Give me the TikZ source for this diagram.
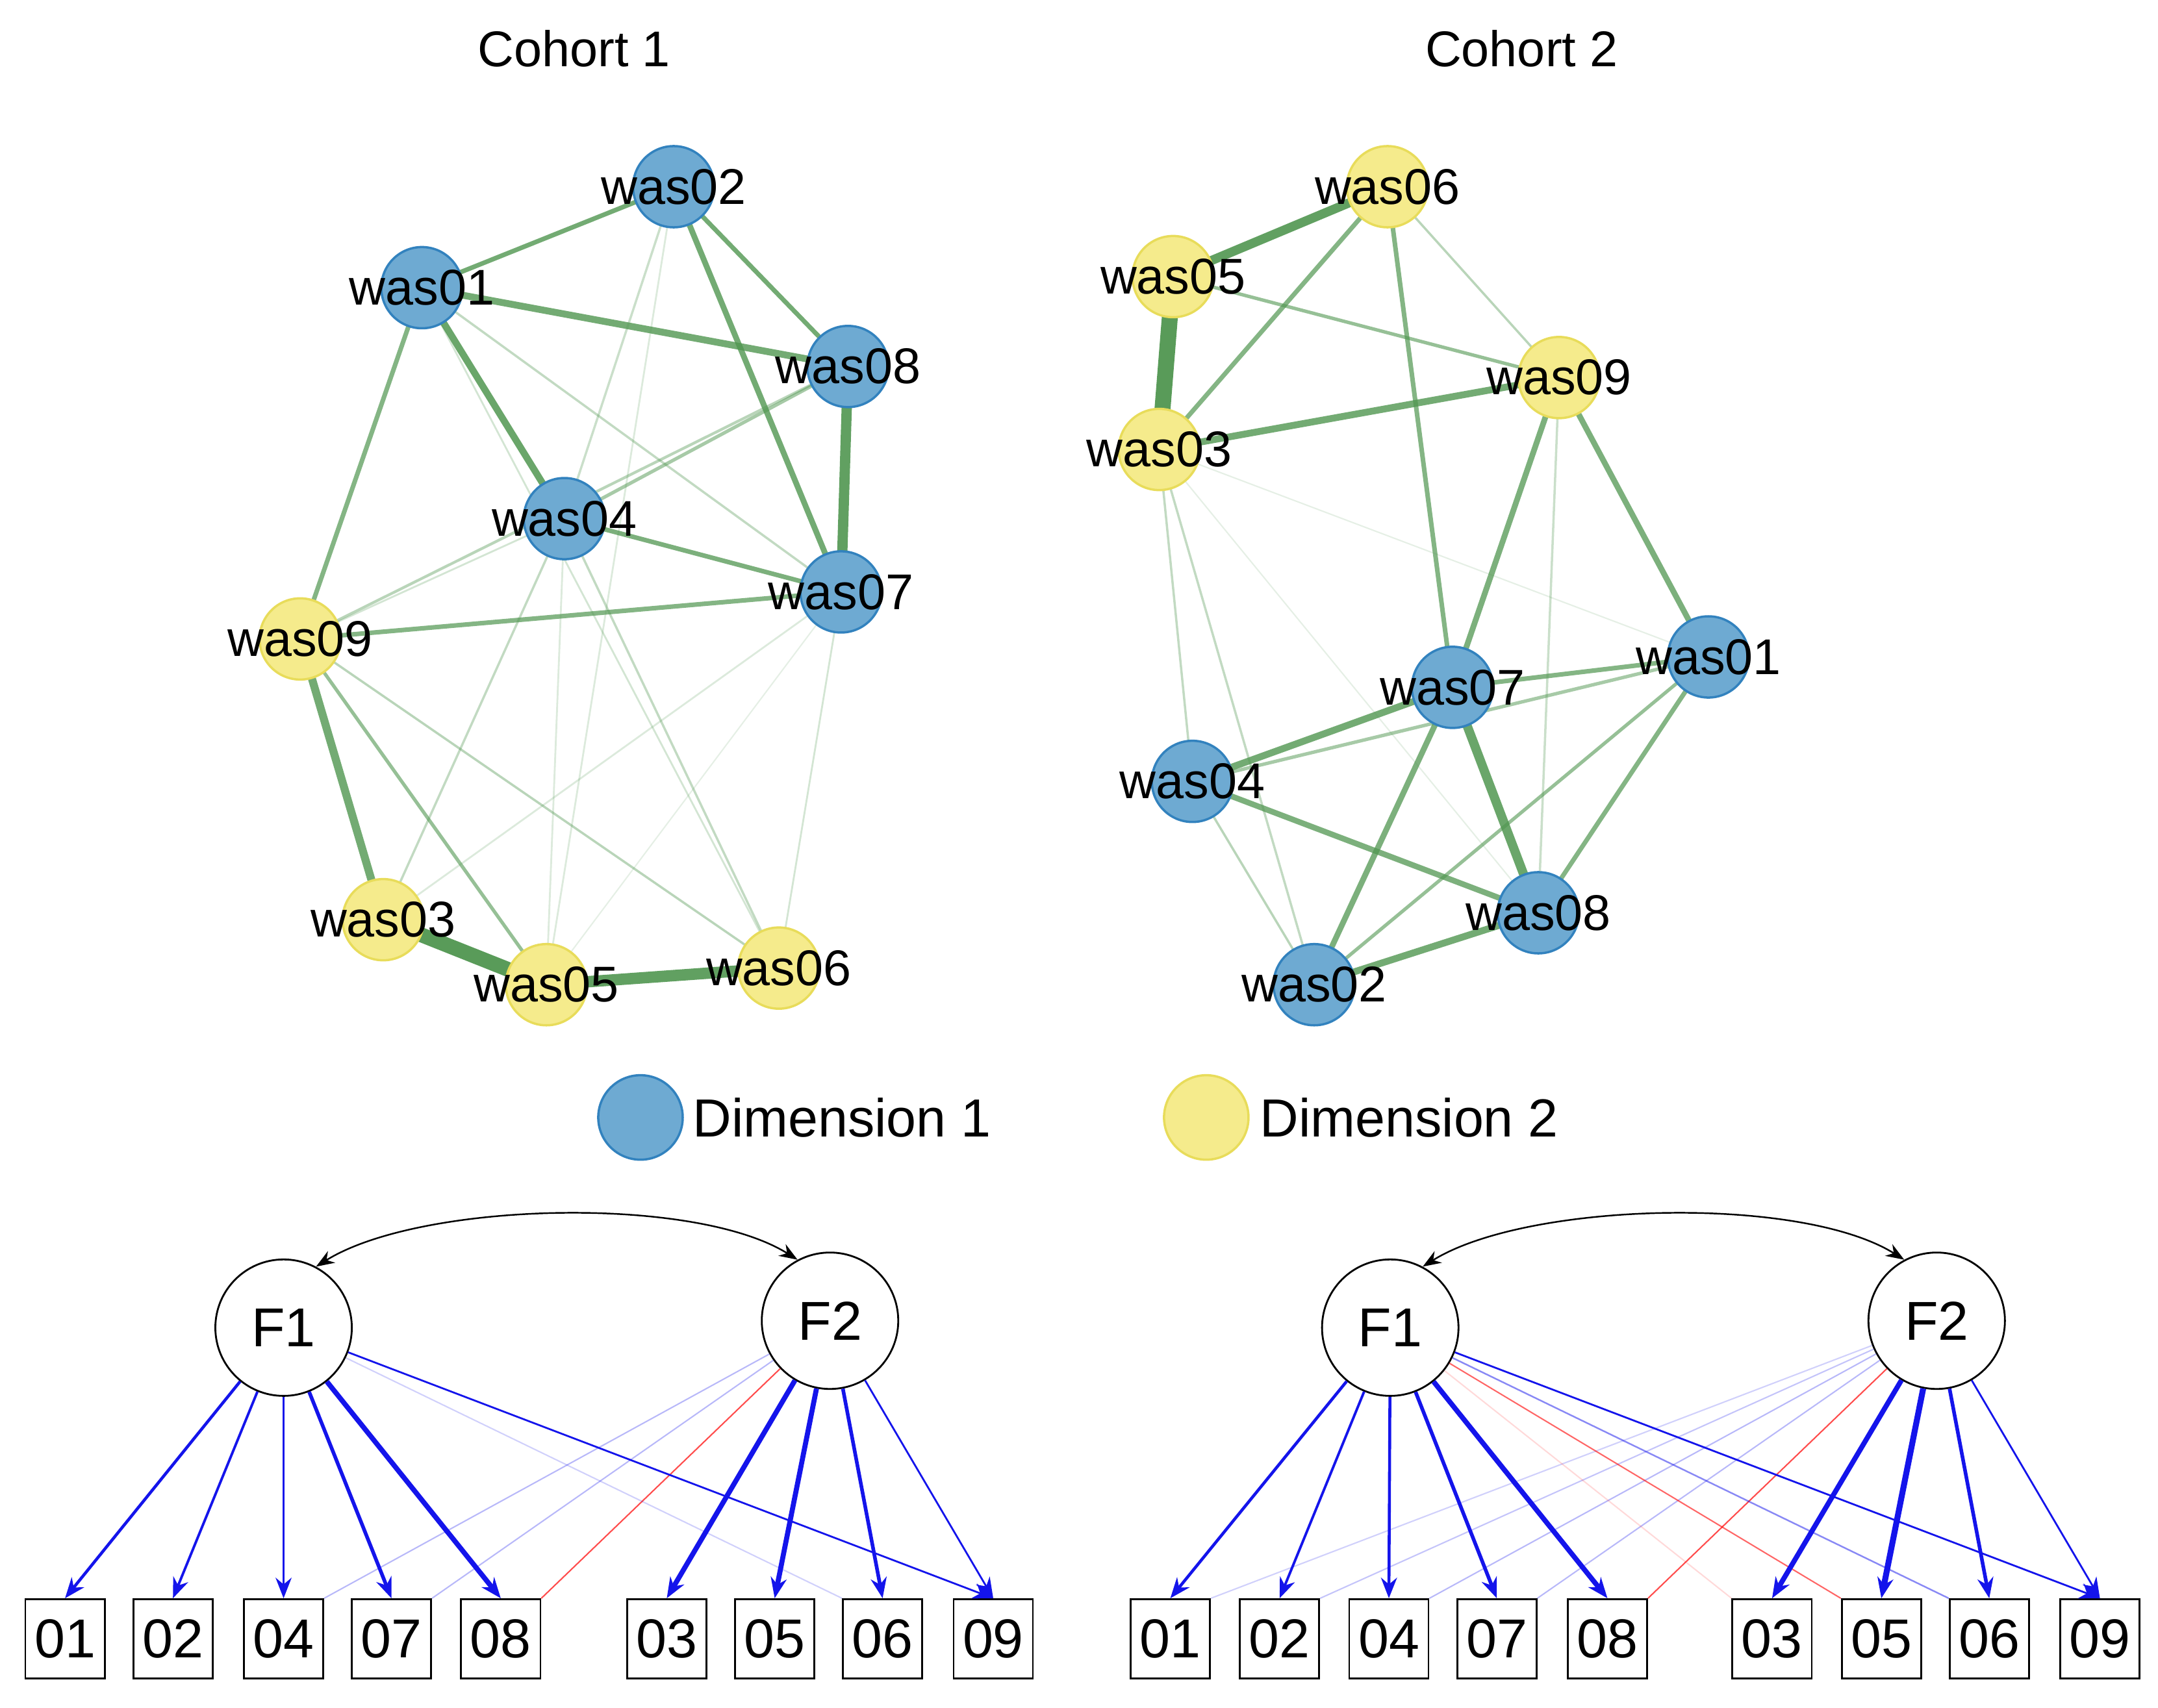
\documentclass[tikz,border=0pt]{standalone}
\usepackage{fontspec}
\setmainfont{Liberation Sans}
\usetikzlibrary{arrows.meta}
\definecolor{dimA}{RGB}{110,170,210}
\definecolor{dimAb}{RGB}{50,130,190}
\definecolor{dimB}{RGB}{245,235,140}
\definecolor{dimBb}{RGB}{232,220,90}
\definecolor{eg}{RGB}{80,150,80}
\definecolor{lb}{RGB}{20,20,235}
\begin{document}
\begin{tikzpicture}[x=0.02129cm,y=-0.02129cm,
  lab/.style={font=\fontsize{22}{26}\selectfont},
  dA/.style={circle,minimum size=1.25cm,inner sep=0pt,fill=dimA,draw=dimAb,line width=1pt},
  dB/.style={circle,minimum size=1.25cm,inner sep=0pt,fill=dimB,draw=dimBb,line width=1pt},
  edge/.style={draw=eg},
  fac/.style={circle,draw,minimum size=2.1cm,inner sep=0pt,font=\fontsize{24}{28}\selectfont,line width=0.8pt},
  box/.style={draw,minimum width=1.22cm,minimum height=1.22cm,inner sep=0pt,font=\fontsize{24}{28}\selectfont,line width=0.8pt},
  ld/.style={-{Stealth[length=9pt,width=7pt]},draw=lb},
  cr/.style={draw=lb},
  cov/.style={{Stealth[length=8pt]}-{Stealth[length=8pt]},line width=0.7pt}
]
\useasboundingbox (0,0) rectangle (1560,1235);
\node[lab] (t1) at (415,35) {Cohort 1};
\node[lab] (t2) at (1100,35) {Cohort 2};
% cohort 1 coordinates
\coordinate (a02) at (487,135); \coordinate (a01) at (305,208); \coordinate (a08) at (613,265);
\coordinate (a04) at (408,375); \coordinate (a07) at (608,428); \coordinate (a09) at (217,462);
\coordinate (a03) at (277,665); \coordinate (a05) at (395,712); \coordinate (a06) at (563,700);
\foreach \p/\q/\w/\o in {01/02/2/0.8,01/08/3/0.8,01/04/3/0.85,01/09/2/0.7,02/08/2/0.8,02/07/2.5/0.8,
  08/07/4.5/0.9,08/04/1.5/0.5,08/09/1.2/0.4,04/07/2/0.75,09/07/2/0.7,09/03/3.5/0.8,03/05/6.5/0.95,
  05/06/5/0.9,09/05/1.5/0.6,09/06/1/0.4,01/07/1/0.35,01/06/0.8/0.25,02/04/1/0.3,02/05/0.8/0.2,
  04/05/0.8/0.2,04/06/1/0.35,04/03/1/0.35,07/03/0.8/0.2,07/06/0.8/0.25,09/04/0.8/0.25,07/05/0.6/0.15}
  \draw[edge,line width=\w pt,draw opacity=\o] (a\p) -- (a\q);
\foreach \n/\s in {02/dA,01/dA,08/dA,04/dA,07/dA,09/dB,03/dB,05/dB,06/dB}
  \node[\s] (n1\n) at (a\n) {};
\foreach \n in {02,01,08,04,07,09,03,05,06}
  \node[lab] (l1\n) at (a\n) {was\n};
% cohort 2
\coordinate (b06) at (1003,135); \coordinate (b05) at (848,200); \coordinate (b09) at (1127,273);
\coordinate (b03) at (838,325); \coordinate (b01) at (1235,475); \coordinate (b07) at (1050,497);
\coordinate (b04) at (862,565); \coordinate (b08) at (1112,660); \coordinate (b02) at (950,712);
\foreach \p/\q/\w/\o in {06/05/4/0.9,05/03/7/0.95,06/03/2/0.7,05/09/1.5/0.6,03/09/3/0.8,06/07/2/0.7,
  06/09/1/0.4,09/07/2.5/0.75,09/01/2.5/0.75,09/08/1/0.3,07/01/2/0.7,07/04/3/0.8,04/01/1.5/0.5,
  07/08/4/0.85,07/02/2.5/0.75,04/08/2.5/0.75,04/02/1/0.4,02/08/3/0.8,01/08/2/0.7,01/02/1.5/0.6,
  03/04/1/0.35,03/02/1/0.35,03/01/0.6/0.15,03/08/0.6/0.15}
  \draw[edge,line width=\w pt,draw opacity=\o] (b\p) -- (b\q);
\foreach \n/\s in {06/dB,05/dB,09/dB,03/dB,01/dA,07/dA,04/dA,08/dA,02/dA}
  \node[\s] (n2\n) at (b\n) {};
\foreach \n in {06,05,09,03,01,07,04,08,02}
  \node[lab] (l2\n) at (b\n) {was\n};
% legend
\node[dA,minimum size=1.3cm] (lgA) at (463,808) {};
\node[lab,anchor=west,font=\fontsize{23.5}{28}\selectfont] (lgAt) at (495,808) {Dimension 1};
\node[dB,minimum size=1.3cm] (lgB) at (872,808) {};
\node[lab,anchor=west,font=\fontsize{23.5}{28}\selectfont] (lgBt) at (905,808) {Dimension 2};
% SEM cohort 1
\node[fac] (f11) at (205,960) {F1};
\node[fac] (f12) at (600,955) {F2};
\foreach \n/\x in {01/47,02/125,04/205,07/283,08/362,03/482,05/560,06/638,09/718}
  \node[box] (s1\n) at (\x,1185) {\n};
\draw[cr,line width=0.6pt,draw opacity=0.3] (f12) -- (s104.north east);
\draw[cr,line width=0.6pt,draw opacity=0.3] (f12) -- (s107.north east);
\draw[draw=red,line width=0.6pt,draw opacity=0.7] (f12) -- (s108.north east);
\draw[cr,line width=0.6pt,draw opacity=0.2] (f11) -- (s106.north west);
\draw[ld,line width=0.8pt] (f11) -- (s109.north);
\draw[ld,line width=1.3pt] (f11) -- (s101.north);
\draw[ld,line width=1.1pt] (f11) -- (s102.north);
\draw[ld,line width=1.1pt] (f11) -- (s104.north);
\draw[ld,line width=1.6pt] (f11) -- (s107.north);
\draw[ld,line width=2.2pt] (f11) -- (s108.north);
\draw[ld,line width=2.2pt] (f12) -- (s103.north);
\draw[ld,line width=2.2pt] (f12) -- (s105.north);
\draw[ld,line width=1.6pt] (f12) -- (s106.north);
\draw[ld,line width=0.8pt] (f12) -- (s109.north);
\draw[cov] (f11.62) to[out=32,in=148,looseness=0.65] (f12.118);
% SEM cohort 2
\node[fac] (f21) at (1005,960) {F1};
\node[fac] (f22) at (1400,955) {F2};
\foreach \n/\x in {01/846,02/925,04/1004,07/1082,08/1162,03/1281,05/1360,06/1438,09/1518}
  \node[box] (s2\n) at (\x,1185) {\n};
\draw[cr,line width=0.6pt,draw opacity=0.2] (f22) -- (s201.north east);
\draw[cr,line width=0.6pt,draw opacity=0.25] (f22) -- (s202.north east);
\draw[cr,line width=0.6pt,draw opacity=0.3] (f22) -- (s204.north east);
\draw[cr,line width=0.6pt,draw opacity=0.3] (f22) -- (s207.north east);
\draw[draw=red,line width=0.6pt,draw opacity=0.7] (f22) -- (s208.north east);
\draw[draw=red,line width=0.6pt,draw opacity=0.15] (f21) -- (s203.north west);
\draw[draw=red,line width=0.6pt,draw opacity=0.6] (f21) -- (s205.north west);
\draw[cr,line width=0.7pt,draw opacity=0.5] (f21) -- (s206.north west);
\draw[ld,line width=0.8pt] (f21) -- (s209.north);
\draw[ld,line width=1.3pt] (f21) -- (s201.north);
\draw[ld,line width=1.1pt] (f21) -- (s202.north);
\draw[ld,line width=1.3pt] (f21) -- (s204.north);
\draw[ld,line width=1.6pt] (f21) -- (s207.north);
\draw[ld,line width=2.2pt] (f21) -- (s208.north);
\draw[ld,line width=2.2pt] (f22) -- (s203.north);
\draw[ld,line width=2.6pt] (f22) -- (s205.north);
\draw[ld,line width=1.6pt] (f22) -- (s206.north);
\draw[ld,line width=0.8pt] (f22) -- (s209.north);
\draw[cov] (f21.62) to[out=32,in=148,looseness=0.65] (f22.118);
\end{tikzpicture}
\end{document}
